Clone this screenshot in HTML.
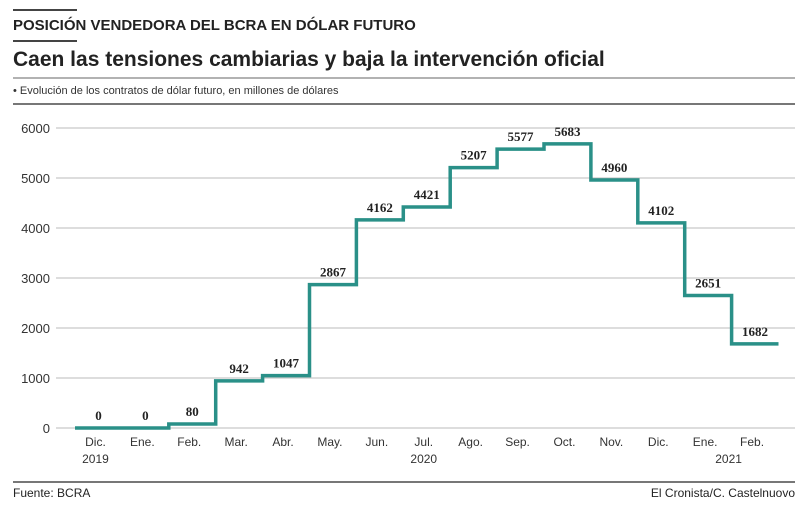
<!DOCTYPE html>
<html><head><meta charset="utf-8"><style>
body{margin:0;width:800px;height:503px;background:#fff;font-family:"Liberation Sans",sans-serif;overflow:hidden}
</style></head><body>
<svg width="800" height="503">
<line x1="13" y1="10" x2="77" y2="10" stroke="#444" stroke-width="2"/>
<text x="13" y="30" font-size="15" font-weight="bold" fill="#222">POSICIÓN VENDEDORA DEL BCRA EN DÓLAR FUTURO</text>
<line x1="13" y1="41" x2="77" y2="41" stroke="#444" stroke-width="2"/>
<text x="13" y="66" font-size="21" font-weight="bold" fill="#222">Caen las tensiones cambiarias y baja la intervención oficial</text>
<line x1="13" y1="78" x2="795" y2="78" stroke="#666" stroke-width="1"/>
<text x="13" y="94" font-size="11" fill="#333">• Evolución de los contratos de dólar futuro, en millones de dólares</text>
<line x1="13" y1="104" x2="795" y2="104" stroke="#777" stroke-width="2"/>
<g id="grid"></g><g id="marks"></g>
<line x1="13" y1="482" x2="795" y2="482" stroke="#777" stroke-width="2"/>
<text x="13" y="497" font-size="12" fill="#222">Fuente: BCRA</text>
<text x="795" y="497" font-size="12" fill="#222" text-anchor="end">El Cronista/C. Castelnuovo</text>
</svg>
<script>
const months=["Dic.","Ene.","Feb.","Mar.","Abr.","May.","Jun.","Jul.","Ago.","Sep.","Oct.","Nov.","Dic.","Ene.","Feb."];
const values=[0,0,80,942,1047,2867,4162,4421,5207,5577,5683,4960,4102,2651,1682];
const yTicks=[0,1000,2000,3000,4000,5000,6000];
const years=[{i:0,t:"2019"},{i:7,t:"2020"},{i:13.5,t:"2021"}];
const NS="http://www.w3.org/2000/svg";
const x0=75,w=46.9;
const x=i=>x0+i*w;
const y=v=>428-v*0.05;
function mk(tag,attrs,parent,txt){const e=document.createElementNS(NS,tag);for(const k in attrs)e.setAttribute(k,attrs[k]);if(txt!==undefined)e.textContent=txt;parent.appendChild(e);return e;}
const grid=document.getElementById('grid'),marks=document.getElementById('marks');
yTicks.forEach(v=>{
 const l=mk('line',{x1:56,x2:795,y1:y(v),y2:y(v),stroke:'#bbb','stroke-width':1},grid);
 
 
 const t=mk('text',{x:50,y:y(v)+5,'font-size':13,fill:'#333','text-anchor':'end'},grid,String(v));
 
 
});
let d="";
values.forEach((v,i)=>{d+=(i?"L":"M")+x(i)+","+y(v)+"L"+x(i+1)+","+y(v);});
const p=mk('path',{d:d,fill:'none',stroke:'#2a9088','stroke-width':3.5,'stroke-linejoin':'miter'},marks);


values.forEach((v,i)=>{
 const t=mk('text',{x:x(i)+w/2,y:y(v)-8,'font-size':13,'font-weight':'bold','font-family':'Liberation Serif, serif',fill:'#222','text-anchor':'middle'},marks,String(v));
 
 
});
months.forEach((m,i)=>{
 const t=mk('text',{x:x(i)+w/2-3,y:446,'font-size':12,fill:'#333','text-anchor':'middle'},marks,m);
 
 
});
years.forEach(o=>{
 const t=mk('text',{x:x(o.i)+w/2-3,y:463,'font-size':12,fill:'#333','text-anchor':'middle'},marks,o.t);
 
 
});
</script>
</body></html>
